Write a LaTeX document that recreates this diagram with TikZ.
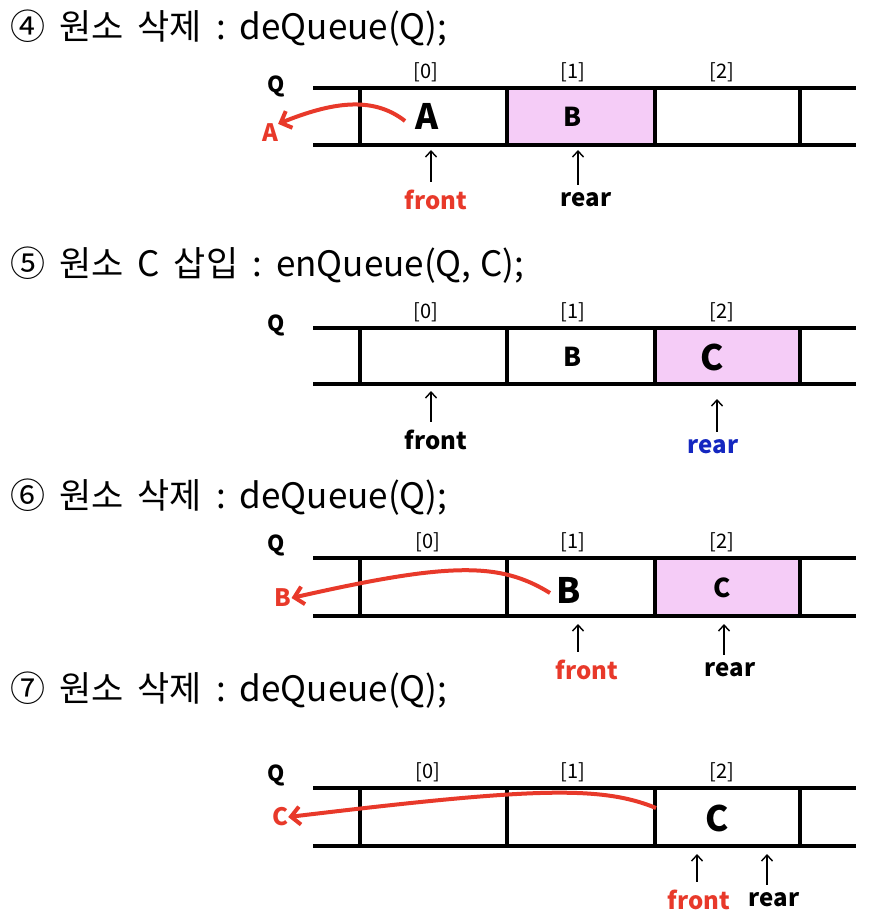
\documentclass[tikz,border=0pt]{standalone}
\usepackage{fontspec}
\setmainfont{Noto Sans CJK KR}
\usetikzlibrary{arrows.meta}
\definecolor{qred}{HTML}{E8392A}
\definecolor{qpink}{HTML}{F5CCF7}
\definecolor{qblue}{HTML}{1427C0}
\newcommand\ws{\hspace{14pt}}
\tikzset{
  rail/.style={line width=4.5pt},
  title/.style={anchor=west,inner sep=0pt,font=\fontsize{35}{40}\selectfont},
  idx/.style={inner sep=0pt,font=\fontsize{20}{22}\selectfont},
  qlab/.style={inner sep=0pt,font=\bfseries\fontsize{22}{24}\selectfont},
  bigel/.style={inner sep=0pt,font=\bfseries\fontsize{35}{38}\selectfont},
  smallel/.style={inner sep=0pt,font=\bfseries\fontsize{26}{28}\selectfont},
  ptr/.style={inner sep=0pt,font=\bfseries\fontsize{24}{26}\selectfont},
  outel/.style={inner sep=0pt,text=qred,font=\bfseries\fontsize{24}{26}\selectfont},
  uparr/.style={line width=1.4pt,-{Straight Barb[length=6pt,width=11pt]}},
  outarr/.style={qred,line width=4pt,-{Straight Barb[length=9pt,width=18pt,line width=4pt]}},
}
\newcommand\qpanel[2]{%
  \draw[rail] (313,#1) -- (856,#1);
  \draw[rail] (313,#2) -- (856,#2);
  \foreach \xx in {360,507,655,800} \draw[rail] (\xx,#1) -- (\xx,#2);
}
\begin{document}
\begin{tikzpicture}[x=1pt,y=-1pt]
\useasboundingbox (0,0) rectangle (886,920);
% ---------- panel 1
\node[title] (t1) at (10,28) {④\ws 원소\ws 삭제\ws :\ws deQueue(Q);};
\fill[qpink] (507,88) rectangle (655,145);
\qpanel{88}{145}
\node[qlab] (q1) at (276,86) {Q};
\node[idx] (i10) at (426,72) {[0]};
\node[idx] (i11) at (573,72) {[1]};
\node[idx] (i12) at (722,72) {[2]};
\node[bigel] (a1) at (427,116) {A};
\node[smallel] (b1) at (573,117) {B};
\node[outel] (o1) at (270,133) {A};
\coordinate (s1) at (405,121);
\draw[outarr] (s1) .. controls (372,95) and (330,103) .. (o1.north east);
\node[ptr,text=qred] (f1) at (436,200) {front};
\node[ptr] (r1) at (586,200) {rear};
\coordinate (f1t) at (431,150);
\coordinate (r1t) at (578,150);
\draw[uparr] (f1.north -| f1t) ++(0,-8) -- (f1t);
\draw[uparr] (r1.north -| r1t) ++(0,-8) -- (r1t);
% ---------- panel 2
\node[title] (t2) at (10,265) {⑤\ws 원소\ws C\ws 삽입\ws :\ws enQueue(Q,\hspace{9pt}C);};
\fill[qpink] (655,328) rectangle (800,384);
\qpanel{328}{384}
\node[qlab] (q2) at (276,325) {Q};
\node[idx] (i20) at (426,312) {[0]};
\node[idx] (i21) at (573,312) {[1]};
\node[idx] (i22) at (722,312) {[2]};
\node[smallel] (b2) at (573,357) {B};
\node[bigel] (c2) at (712,357) {C};
\node[ptr] (f2) at (436,440) {front};
\node[ptr,text=qblue] (r2) at (713,447) {rear};
\coordinate (f2t) at (431,391);
\coordinate (r2t) at (717,399);
\draw[uparr] (f2.north -| f2t) ++(0,-8) -- (f2t);
\draw[uparr] (r2.north -| r2t) ++(0,-8) -- (r2t);
% ---------- panel 3
\node[title] (t3) at (10,497) {⑥\ws 원소\ws 삭제\ws :\ws deQueue(Q);};
\fill[qpink] (655,558) rectangle (800,616);
\qpanel{558}{616}
\node[qlab] (q3) at (276,545) {Q};
\node[idx] (i30) at (428,542) {[0]};
\node[idx] (i31) at (573,542) {[1]};
\node[idx] (i32) at (722,542) {[2]};
\node[bigel] (b3) at (569,590) {B};
\node[smallel] (c3) at (722,588) {C};
\node[outel] (o3) at (283,598) {B};
\coordinate (s3) at (550,593);
\draw[outarr] (s3) .. controls (500,562) and (450,562) .. (o3.east);
\node[ptr,text=qred] (f3) at (587,670) {front};
\node[ptr] (r3) at (730,670) {rear};
\coordinate (f3t) at (578,624);
\coordinate (r3t) at (724,624);
\draw[uparr] (f3.north -| f3t) ++(0,-8) -- (f3t);
\draw[uparr] (r3.north -| r3t) ++(0,-8) -- (r3t);
% ---------- panel 4
\node[title] (t4) at (10,690) {⑦\ws 원소\ws 삭제\ws :\ws deQueue(Q);};
\qpanel{788}{846}
\node[qlab] (q4) at (276,775) {Q};
\node[idx] (i40) at (428,772) {[0]};
\node[idx] (i41) at (573,772) {[1]};
\node[idx] (i42) at (722,772) {[2]};
\node[bigel] (c4) at (717,818) {C};
\node[outel] (o4) at (280,817) {C};
\coordinate (s4) at (656,808);
\draw[outarr] (s4) .. controls (600,785) and (530,788) .. (o4.east);
\node[ptr,text=qred] (f4) at (699,900) {front};
\node[ptr] (r4) at (774,900) {rear};
\coordinate (f4t) at (697,854);
\coordinate (r4t) at (767,854);
\draw[uparr] (f4.north -| f4t) ++(0,-8) -- (f4t);
\draw[uparr] (r4.north -| r4t) ++(0,-8) -- (r4t);
\end{tikzpicture}
\end{document}
